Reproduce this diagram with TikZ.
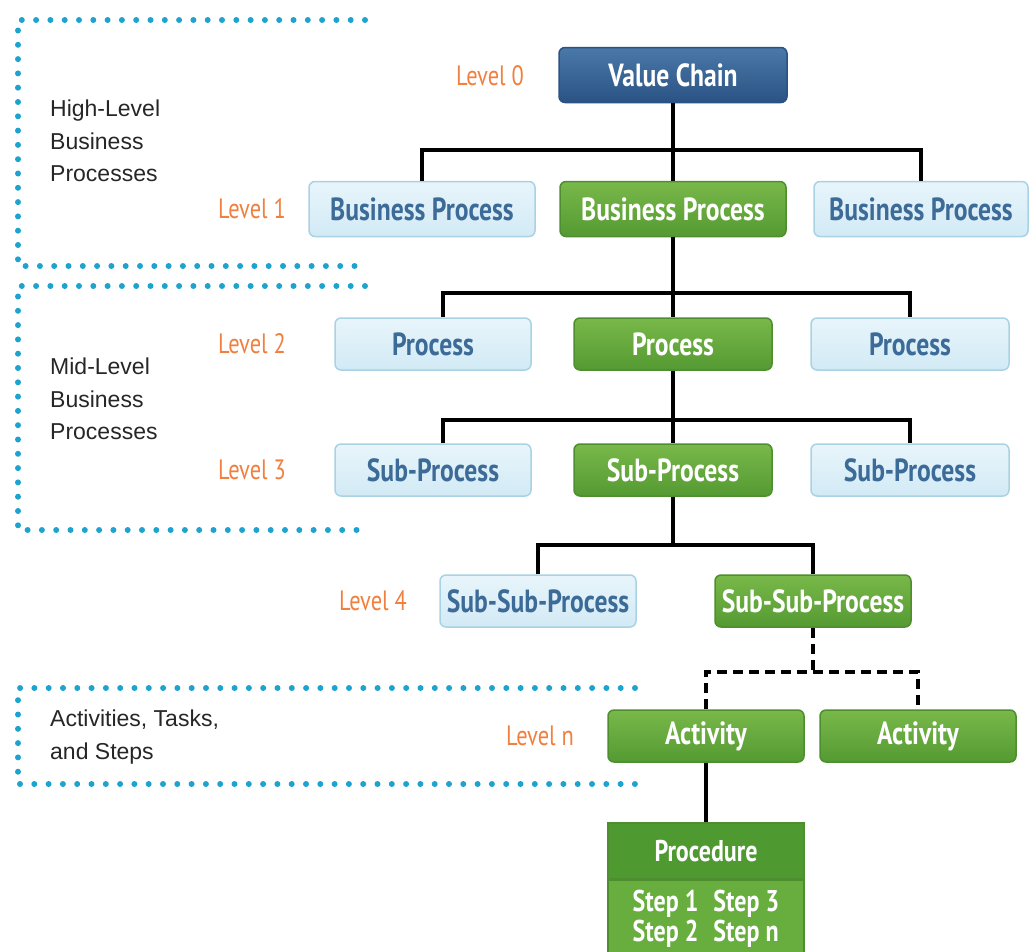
\documentclass[tikz,border=0pt]{standalone}
\usepackage{fontspec}
\setmainfont{Liberation Sans}
\newfontfamily\boxfont[FakeStretch=0.8]{PT Sans}
\definecolor{lbtop}{HTML}{E8F5FB}
\definecolor{lbbot}{HTML}{D2EAF5}
\definecolor{lbdraw}{HTML}{A9D2E4}
\definecolor{lbtext}{HTML}{3D6B98}
\definecolor{grtop}{HTML}{79B84A}
\definecolor{grbot}{HTML}{549A32}
\definecolor{grdraw}{HTML}{4E8E2E}
\definecolor{vctop}{HTML}{4A78A8}
\definecolor{vcbot}{HTML}{2A5384}
\definecolor{lvorange}{HTML}{F08040}
\definecolor{dotblue}{HTML}{1EA3CF}
\definecolor{prochead}{HTML}{4E9A30}
\definecolor{procbody}{HTML}{68AE3E}
\begin{document}
\begin{tikzpicture}[x=1pt,y=-1pt,
  boxbase/.style={rounded corners=6pt, line width=1.5pt, inner sep=0pt, minimum height=55pt,
    font=\boxfont\bfseries\fontsize{32}{34}\selectfont},
  lightbox/.style={boxbase, draw=lbdraw, top color=lbtop, bottom color=lbbot, text=lbtext},
  greenbox/.style={boxbase, draw=grdraw, top color=grtop, bottom color=grbot, text=white},
  bluebox/.style={boxbase, draw=vcbot, top color=vctop, bottom color=vcbot, text=white},
  lvl/.style={text=lvorange, font=\boxfont\fontsize{28}{30}\selectfont, inner sep=0pt},
  side/.style={text=black!85, font=\fontsize{23}{32.5}\selectfont, align=left, anchor=west, inner sep=0pt},
  tree/.style={line width=4pt, black, line join=miter},
  dashtree/.style={tree, dash pattern=on 10pt off 6pt},
  dots/.style={line width=6pt, dotblue, line cap=round, dash pattern=on 0pt off 14.3pt}]
\useasboundingbox (0,0) rectangle (1036,951);

% grouping frames
\draw[dots] (365,20) -- (18,20) -- (18,266) -- (365,266);
\draw[dots] (365,286) -- (18,286) -- (18,530) -- (365,530);
\draw[dots] (635,688) -- (18,688) -- (18,784) -- (635,784);

\node[side] (hl) at (50,141) {High-Level\\Business\\Processes};
\node[side] (ml) at (50,399) {Mid-Level\\Business\\Processes};
\node[side] (al) at (50,737) {Activities, Tasks,\\and Steps};

% level labels
\node[lvl] (l0) at (490,76) {Level 0};
\node[lvl] (l1) at (252,209) {Level 1};
\node[lvl] (l2) at (252,344) {Level 2};
\node[lvl] (l3) at (252,470) {Level 3};
\node[lvl] (l4) at (373,601) {Level 4};
\node[lvl] (ln) at (540,736) {Level n};

% boxes
\node[bluebox, minimum width=228pt] (vc) at (673,75) {Value Chain};
\node[lightbox, minimum width=226pt] (b1l) at (422,209) {Business Process};
\node[greenbox, minimum width=226pt] (b1m) at (673,209) {Business Process};
\node[lightbox, minimum width=214pt] (b1r) at (921,209) {Business Process};

\node[lightbox, minimum width=196pt, minimum height=52pt] (b2l) at (433,344) {Process};
\node[greenbox, minimum width=198pt, minimum height=52pt] (b2m) at (673,344) {Process};
\node[lightbox, minimum width=198pt, minimum height=52pt] (b2r) at (910,344) {Process};

\node[lightbox, minimum width=196pt, minimum height=52pt] (b3l) at (433,470) {Sub-Process};
\node[greenbox, minimum width=198pt, minimum height=52pt] (b3m) at (673,470) {Sub-Process};
\node[lightbox, minimum width=198pt, minimum height=52pt] (b3r) at (910,470) {Sub-Process};

\node[lightbox, minimum width=196pt, minimum height=52pt] (b4l) at (538,601) {Sub-Sub-Process};
\node[greenbox, minimum width=196pt, minimum height=52pt] (b4r) at (813,601) {Sub-Sub-Process};

\node[greenbox, minimum width=196pt, minimum height=52pt] (a1) at (706,736) {Activity};
\node[greenbox, minimum width=196pt, minimum height=52pt] (a2) at (918,736) {Activity};

% procedure card
\node[draw=grdraw, line width=1.5pt, fill=prochead, minimum width=196pt, minimum height=56pt,
  inner sep=0pt, anchor=north, text=white, font=\boxfont\bfseries\fontsize{30}{32}\selectfont]
  (proc) at (706,822) {Procedure};
\node[draw=grdraw, line width=1.5pt, fill=procbody, minimum width=196pt, minimum height=78pt,
  inner sep=0pt, anchor=north, text=white, align=left,
  font=\boxfont\bfseries\fontsize{30}{30}\selectfont]
  (steps) at (proc.south) {Step 1\enspace Step 3\\Step 2\enspace Step n};

% connectors
\coordinate (j1) at (673,150);
\coordinate (j2) at (673,293);
\coordinate (j3) at (673,420);
\coordinate (j4) at (673,545);
\coordinate (j5) at (813,672);
\draw[tree] (vc.south) -- (b1m.north);
\draw[tree] (b1l.north) |- (j1) -| (b1r.north);
\draw[tree] (b1m.south) -- (b2m.north);
\draw[tree] ([xshift=10pt]b2l.north) |- (j2) -| (b2r.north);
\draw[tree] (b2m.south) -- (b3m.north);
\draw[tree] ([xshift=10pt]b3l.north) |- (j3) -| (b3r.north);
\draw[tree] (b3m.south) -- (j4);
\draw[tree] (b4l.north) |- (j4) -| (b4r.north);
\draw[dashtree] (b4r.south) -- (j5);
\draw[dashtree] (a1.north) |- (j5) -| (a2.north);
\draw[tree] (a1.south) -- (proc.north);
\end{tikzpicture}
\end{document}
